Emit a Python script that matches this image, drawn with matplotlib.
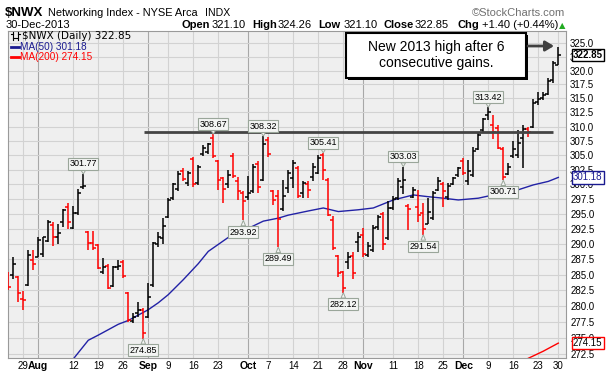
import numpy as np
import pandas as pd
import matplotlib
matplotlib.use("Agg")
import matplotlib.pyplot as plt
from matplotlib.patches import Rectangle, FancyArrowPatch
from matplotlib.lines import Line2D
from matplotlib.ticker import FixedLocator, FormatStrFormatter, NullLocator

plt.rcParams["font.family"] = ["Liberation Sans", "DejaVu Sans"]

# --- data: $NWX daily bars, 24-Jul-2013 .. 30-Dec-2013 ---
holidays = ["2013-09-02", "2013-11-28", "2013-12-25"]
days = pd.bdate_range("2013-07-24", "2013-12-30")
days = days[~days.isin(pd.to_datetime(holidays))]

opens = [284.5, 285.0, 284.7, 281.1, 283.4, 287.4, 287.95, 288.4, 290.45, 293.1,
         291.1, 293.7, 296.2, 292.7, 295.1, 299.5, 292.0, 290.2, 289.8, 285.5,
         286.4, 283.2, 286.2, 287.1, 282.1, 277.6, 278.8, 279.3, 278.3, 283.3,
         290.0, 291.0, 294.5, 297.6, 299.2, 302.3, 300.3, 304.3, 300.3, 305.2,
         305.6, 308.0, 304.0, 301.0, 300.0, 304.9, 300.6, 298.5, 297.8, 298.8,
         303.5, 300.8, 307.6, 298.8, 298.0, 295.8, 299.3, 301.0, 302.8, 298.5,
         300.0, 301.2, 302.0, 305.0, 300.8, 294.0, 288.0, 285.4, 287.0, 288.0,
         290.3, 291.5, 288.2, 289.0, 292.8, 295.0, 291.0, 296.0, 297.6, 299.5,
         296.4, 297.9, 296.2, 295.2, 293.4, 294.3, 299.0, 300.0, 297.8, 300.0,
         301.6, 304.0, 300.6, 301.6, 306.0, 309.4, 312.0, 310.3, 309.7, 306.0,
         301.8, 304.8, 305.0, 308.0, 309.5, 309.9, 314.3, 315.0, 315.8, 318.3,
         321.10]
highs = [285.5, 287.85, 284.8, 282.4, 289.0, 289.0, 291.2, 291.2, 294.0, 293.7,
         293.4, 295.9, 296.9, 296.4, 299.2, 301.77, 292.1, 292.1, 290.0, 287.7,
         286.7, 286.4, 287.4, 287.4, 282.3, 278.8, 280.6, 279.6, 283.6, 290.4,
         292.0, 294.3, 297.7, 300.2, 302.2, 302.8, 302.3, 304.65, 303.3, 306.8,
         307.1, 308.67, 304.2, 301.3, 302.5, 305.3, 301.3, 298.8, 301.5, 303.5,
         304.0, 308.32, 308.2, 299.1, 299.1, 300.75, 302.5, 304.2, 303.1, 300.5,
         300.5, 303.6, 305.1, 305.41, 301.0, 294.6, 288.2, 285.6, 288.7, 288.7,
         292.0, 292.6, 290.3, 293.1, 294.8, 295.4, 297.1, 298.0, 301.0, 303.03,
         296.65, 299.6, 299.1, 296.8, 297.6, 298.8, 301.3, 300.4, 300.2, 301.3,
         303.0, 304.5, 304.2, 306.5, 308.8, 311.5, 313.42, 312.05, 310.3, 306.5,
         303.6, 307.4, 309.4, 310.3, 310.0, 314.9, 316.2, 316.2, 318.6, 321.7,
         324.26]
lows = [282.5, 284.3, 280.6, 279.3, 283.2, 285.8, 287.85, 287.95, 290.3, 289.7,
        290.0, 292.9, 292.5, 292.5, 294.9, 299.2, 289.1, 289.0, 285.9, 285.1,
        282.7, 283.0, 285.8, 284.5, 277.5, 277.3, 278.3, 274.85, 278.1, 283.1,
        289.5, 290.0, 294.3, 297.4, 298.8, 300.5, 299.7, 299.6, 299.9, 304.8,
        305.2, 304.5, 299.05, 296.8, 299.35, 301.0, 297.35, 293.92, 297.3, 298.6,
        298.5, 300.5, 304.7, 296.5, 289.49, 295.5, 298.5, 299.3, 297.6, 297.6,
        297.6, 300.5, 301.7, 300.75, 294.6, 289.05, 284.7, 282.12, 285.9, 284.3,
        288.7, 287.95, 287.9, 288.7, 292.3, 289.05, 290.7, 295.7, 297.35, 298.3,
        292.3, 297.65, 293.7, 291.54, 293.4, 294.0, 298.8, 296.2, 297.4, 299.9,
        301.3, 301.6, 299.9, 301.3, 305.9, 309.1, 311.2, 307.9, 306.0, 300.71,
        301.6, 304.5, 304.5, 302.8, 308.2, 309.7, 313.8, 314.7, 315.6, 317.7,
        321.10]
closes = [283.1, 286.7, 282.0, 281.0, 288.2, 286.7, 290.6, 291.1, 293.6, 291.1,
          291.9, 295.6, 293.6, 295.2, 298.5, 299.7, 290.2, 289.3, 286.1, 286.3,
          282.8, 286.3, 286.4, 284.8, 277.8, 278.2, 279.3, 275.8, 281.5, 290.1,
          291.2, 293.0, 297.3, 300.0, 301.8, 300.9, 302.0, 300.0, 302.9, 306.3,
          306.9, 304.8, 300.8, 299.2, 301.6, 301.4, 298.9, 297.2, 298.5, 303.0,
          299.6, 307.0, 305.2, 297.3, 294.2, 298.0, 302.0, 303.7, 298.0, 300.2,
          299.1, 303.0, 304.6, 302.5, 294.8, 289.3, 285.3, 282.9, 287.8, 285.2,
          291.2, 288.3, 289.7, 292.6, 294.5, 290.0, 296.0, 297.5, 300.5, 300.8,
          295.9, 299.0, 294.8, 292.5, 295.4, 298.5, 300.5, 298.8, 299.8, 301.0,
          302.8, 302.0, 302.2, 305.8, 308.5, 311.3, 312.6, 309.0, 306.2, 301.3,
          303.0, 306.0, 307.2, 309.6, 309.0, 314.2, 314.8, 315.6, 318.2, 321.45,
          322.85]

# moving averages (bar index, value)
ma50_idx = [13, 16, 18, 22, 24, 28, 30, 32, 35, 38, 40, 44, 48, 51, 54, 56, 60, 63,
            66, 70, 73, 77, 81, 84, 87, 90, 94, 97, 101, 105, 108, 110]
ma50_val = [271.7, 274.6, 275.4, 277.1, 277.7, 279.4, 280.5, 281.8, 284.2, 286.8,
            288.8, 291.1, 292.6, 293.8, 294.3, 294.8, 295.5, 296.0, 295.4, 295.7,
            296.0, 297.35, 298.2, 297.9, 297.65, 297.35, 297.65, 298.2, 298.8,
            299.9, 300.5, 301.18]
ma200_idx = [104, 107, 110]
ma200_val = [271.8, 272.9, 274.15]

resistance = 309.05
resistance_span = [27.2, 108.9]

# labelled swing points: (bar index, 'high' or 'low')
swing_labels = [(15, "high"), (27, "low"), (41, "high"), (47, "low"), (51, "high"),
                (54, "low"), (63, "high"), (67, "low"), (79, "high"), (83, "low"),
                (96, "high"), (99, "low")]

tick_dates = ["2013-07-29", "2013-08-01", "2013-08-12", "2013-08-19", "2013-08-26",
              "2013-09-03", "2013-09-09", "2013-09-16", "2013-09-23", "2013-10-01",
              "2013-10-07", "2013-10-14", "2013-10-21", "2013-10-28", "2013-11-01",
              "2013-11-11", "2013-11-18", "2013-11-25", "2013-12-02", "2013-12-09",
              "2013-12-16", "2013-12-23", "2013-12-30"]
tick_labels = ["29", "Aug", "12", "19", "26", "Sep", "9", "16", "23", "Oct", "7", "14",
               "21", "28", "Nov", "11", "18", "25", "Dec", "9", "16", "23", "30"]

W, H = 607, 374


def fx(px):
    return px / W


def fy(py):
    return 1 - py / H


opens = np.array(opens)
highs = np.array(highs)
lows = np.array(lows)
closes = np.array(closes)
x = np.arange(len(days))
prev = np.r_[opens[0], closes[:-1]]
colors = np.where(closes >= prev, "black", "red")

fig = plt.figure(figsize=(W / 100, H / 100), dpi=100, facecolor="white")
ax = fig.add_axes([fx(8.3), fy(358.3), fx(566) - fx(8.3), fy(31) - fy(358.3)])
ax.set_facecolor("#efefef")

ax.set_yscale("log")
ax.set_ylim(271.8, 327.27)
ax.set_xlim(0, 111.54)

yt = np.arange(272.5, 325.1, 2.5)
ax.yaxis.set_major_locator(FixedLocator(yt))
ax.yaxis.set_minor_locator(NullLocator())
ax.yaxis.set_major_formatter(FormatStrFormatter("%.1f"))
ax.yaxis.tick_right()
ax.tick_params(axis="y", length=0, pad=3, labelsize=7)
ax.grid(axis="y", color="#d2d2d2", lw=0.8)

tpos = days.get_indexer(pd.to_datetime(tick_dates))
ax.set_xticks(tpos)
ax.set_xticklabels(tick_labels)
ax.tick_params(axis="x", length=0, pad=2, labelsize=7)
for lab in ax.get_xticklabels():
    if lab.get_text().isalpha():
        lab.set_fontweight("bold")
        lab.set_fontsize(7.5)
for p, t in zip(tpos, tick_labels):
    ax.axvline(p, color="#a8a8a8" if t.isalpha() else "#d2d2d2", lw=0.8, zorder=0.5)
ax.set_axisbelow(True)
for s in ax.spines.values():
    s.set_color("#9a9a9a")

# OHLC bars
ax.vlines(x, lows, highs, colors=colors, lw=1.1, zorder=3)
ax.hlines(opens, x - 0.6, x, colors=colors, lw=1.1, zorder=3)
ax.hlines(closes, x, x + 0.6, colors=colors, lw=1.1, zorder=3)

ax.plot(ma50_idx, ma50_val, color="#2222a6", lw=1.0, zorder=2)
ax.plot(ma200_idx, ma200_val, color="red", lw=1.0, zorder=2)
ax.hlines(resistance, *resistance_span, color="#444444", lw=2.0, zorder=4)

# swing-point value tags
for i, kind in swing_labels:
    v = highs[i] if kind == "high" else lows[i]
    dy = 7.2 if kind == "high" else -8.4
    ax.annotate(f"{v:.2f}", xy=(i, v), xytext=(0, dy), textcoords="offset points",
                ha="center", va="center", fontsize=6.5, zorder=6,
                bbox=dict(boxstyle="square,pad=0.15", fc="#f3f5f3", ec="#9aa69a", lw=0.8),
                arrowprops=dict(arrowstyle="wedge,tail_width=0.5,shrink_factor=0.5",
                                fc="#f3f5f3", ec="#9aa69a", lw=0.7, shrinkA=0, shrinkB=0))

# right-axis value tags (drawn over the tick labels, as in the original)
for v, col, tc, bold in [(closes[-1], "black", "black", True),
                         (ma50_val[-1], "#1a1a90", "#1a1a90", False),
                         (ma200_val[-1], "red", "black", False)]:
    ax.annotate(f"{v:.2f}", xy=(1, v), xycoords=("axes fraction", "data"),
                xytext=(5, 0), textcoords="offset points", ha="left", va="center",
                fontsize=7, color=tc, fontweight="bold" if bold else "normal",
                annotation_clip=False, zorder=7,
                bbox=dict(boxstyle="square,pad=0.12", fc="white", ec=col, lw=1.0))

# legend in the plot
fig.add_artist(Line2D([fx(13), fx(13)], [fy(32), fy(39.5)], color="black", lw=0.8))
fig.add_artist(Line2D([fx(11), fx(13)], [fy(33.5), fy(33.5)], color="black", lw=0.8))
fig.add_artist(Line2D([fx(13), fx(15)], [fy(38), fy(38)], color="black", lw=0.8))
fig.add_artist(Line2D([fx(18), fx(18)], [fy(32), fy(39.5)], color="black", lw=0.8))
fig.add_artist(Line2D([fx(16), fx(18)], [fy(38), fy(38)], color="black", lw=0.8))
fig.add_artist(Line2D([fx(18), fx(20)], [fy(33.5), fy(33.5)], color="black", lw=0.8))
fig.text(fx(22), fy(35.7), "$NWX (Daily) 322.85", fontsize=7.5, va="center",
         family=["DejaVu Sans"])
fig.add_artist(Line2D([fx(11), fx(19)], [fy(46.7), fy(46.7)], color="#1a1a90", lw=2))
fig.text(fx(20), fy(46.7), "MA(50) 301.18", fontsize=7.2, va="center", color="#1a1a90")
fig.add_artist(Line2D([fx(11), fx(19)], [fy(57.3), fy(57.3)], color="red", lw=2))
fig.text(fx(20), fy(57.3), "MA(200) 274.15", fontsize=7.2, va="center", color="red")

# annotation box + arrow
fig.add_artist(Rectangle((fx(348), fy(80)), fx(526) - fx(346), fy(33) - fy(78),
                         transform=fig.transFigure, fc="black", ec="none", zorder=8))
fig.add_artist(Rectangle((fx(346), fy(78)), fx(526) - fx(346), fy(33) - fy(78),
                         transform=fig.transFigure, fc="white", ec="black", lw=1.5, zorder=9))
fig.text(fx(436), fy(46.5), "New 2013 high after 6", fontsize=10, ha="center",
         va="center", zorder=10)
fig.text(fx(436), fy(63.3), "consecutive gains.", fontsize=10, ha="center",
         va="center", zorder=10)
fig.add_artist(FancyArrowPatch((fx(528), fy(46)), (fx(554), fy(46)),
                               transform=fig.transFigure,
                               arrowstyle="-|>,head_length=5,head_width=3",
                               color="#404040", lw=2, shrinkA=0, shrinkB=0, zorder=10))

# header
fig.text(fx(5), fy(16), "$NWX", fontsize=9.5, fontweight="bold", va="baseline")
fig.text(fx(48), fy(16), "Networking Index - NYSE Arca", fontsize=7.9, va="baseline")
fig.text(fx(205), fy(16), "INDX", fontsize=7.6, va="baseline")
fig.text(fx(565), fy(16), "\u00a9StockCharts.com", fontsize=8, va="baseline",
         ha="right", color="#707070")
fig.text(fx(6), fy(28.5), "30-Dec-2013", fontsize=8, va="baseline")
for px, txt, bold in [(181, "Open", True), (212, "321.10", False),
                      (252, "High", True), (278, "324.26", False),
                      (318, "Low", True), (344, "321.10", False),
                      (384, "Close", True), (415, "322.85", False),
                      (458, "Chg", True), (482, "+1.40 (+0.44%)", False)]:
    fig.text(fx(px), fy(28.5), txt, fontsize=8, va="baseline",
             fontweight="bold" if bold else "normal")
fig.text(fx(559), fy(28.5), "\u25b2", fontsize=6, va="baseline", color="#22aa22",
         family=["DejaVu Sans"])

fig.savefig("out.png", dpi=100)
